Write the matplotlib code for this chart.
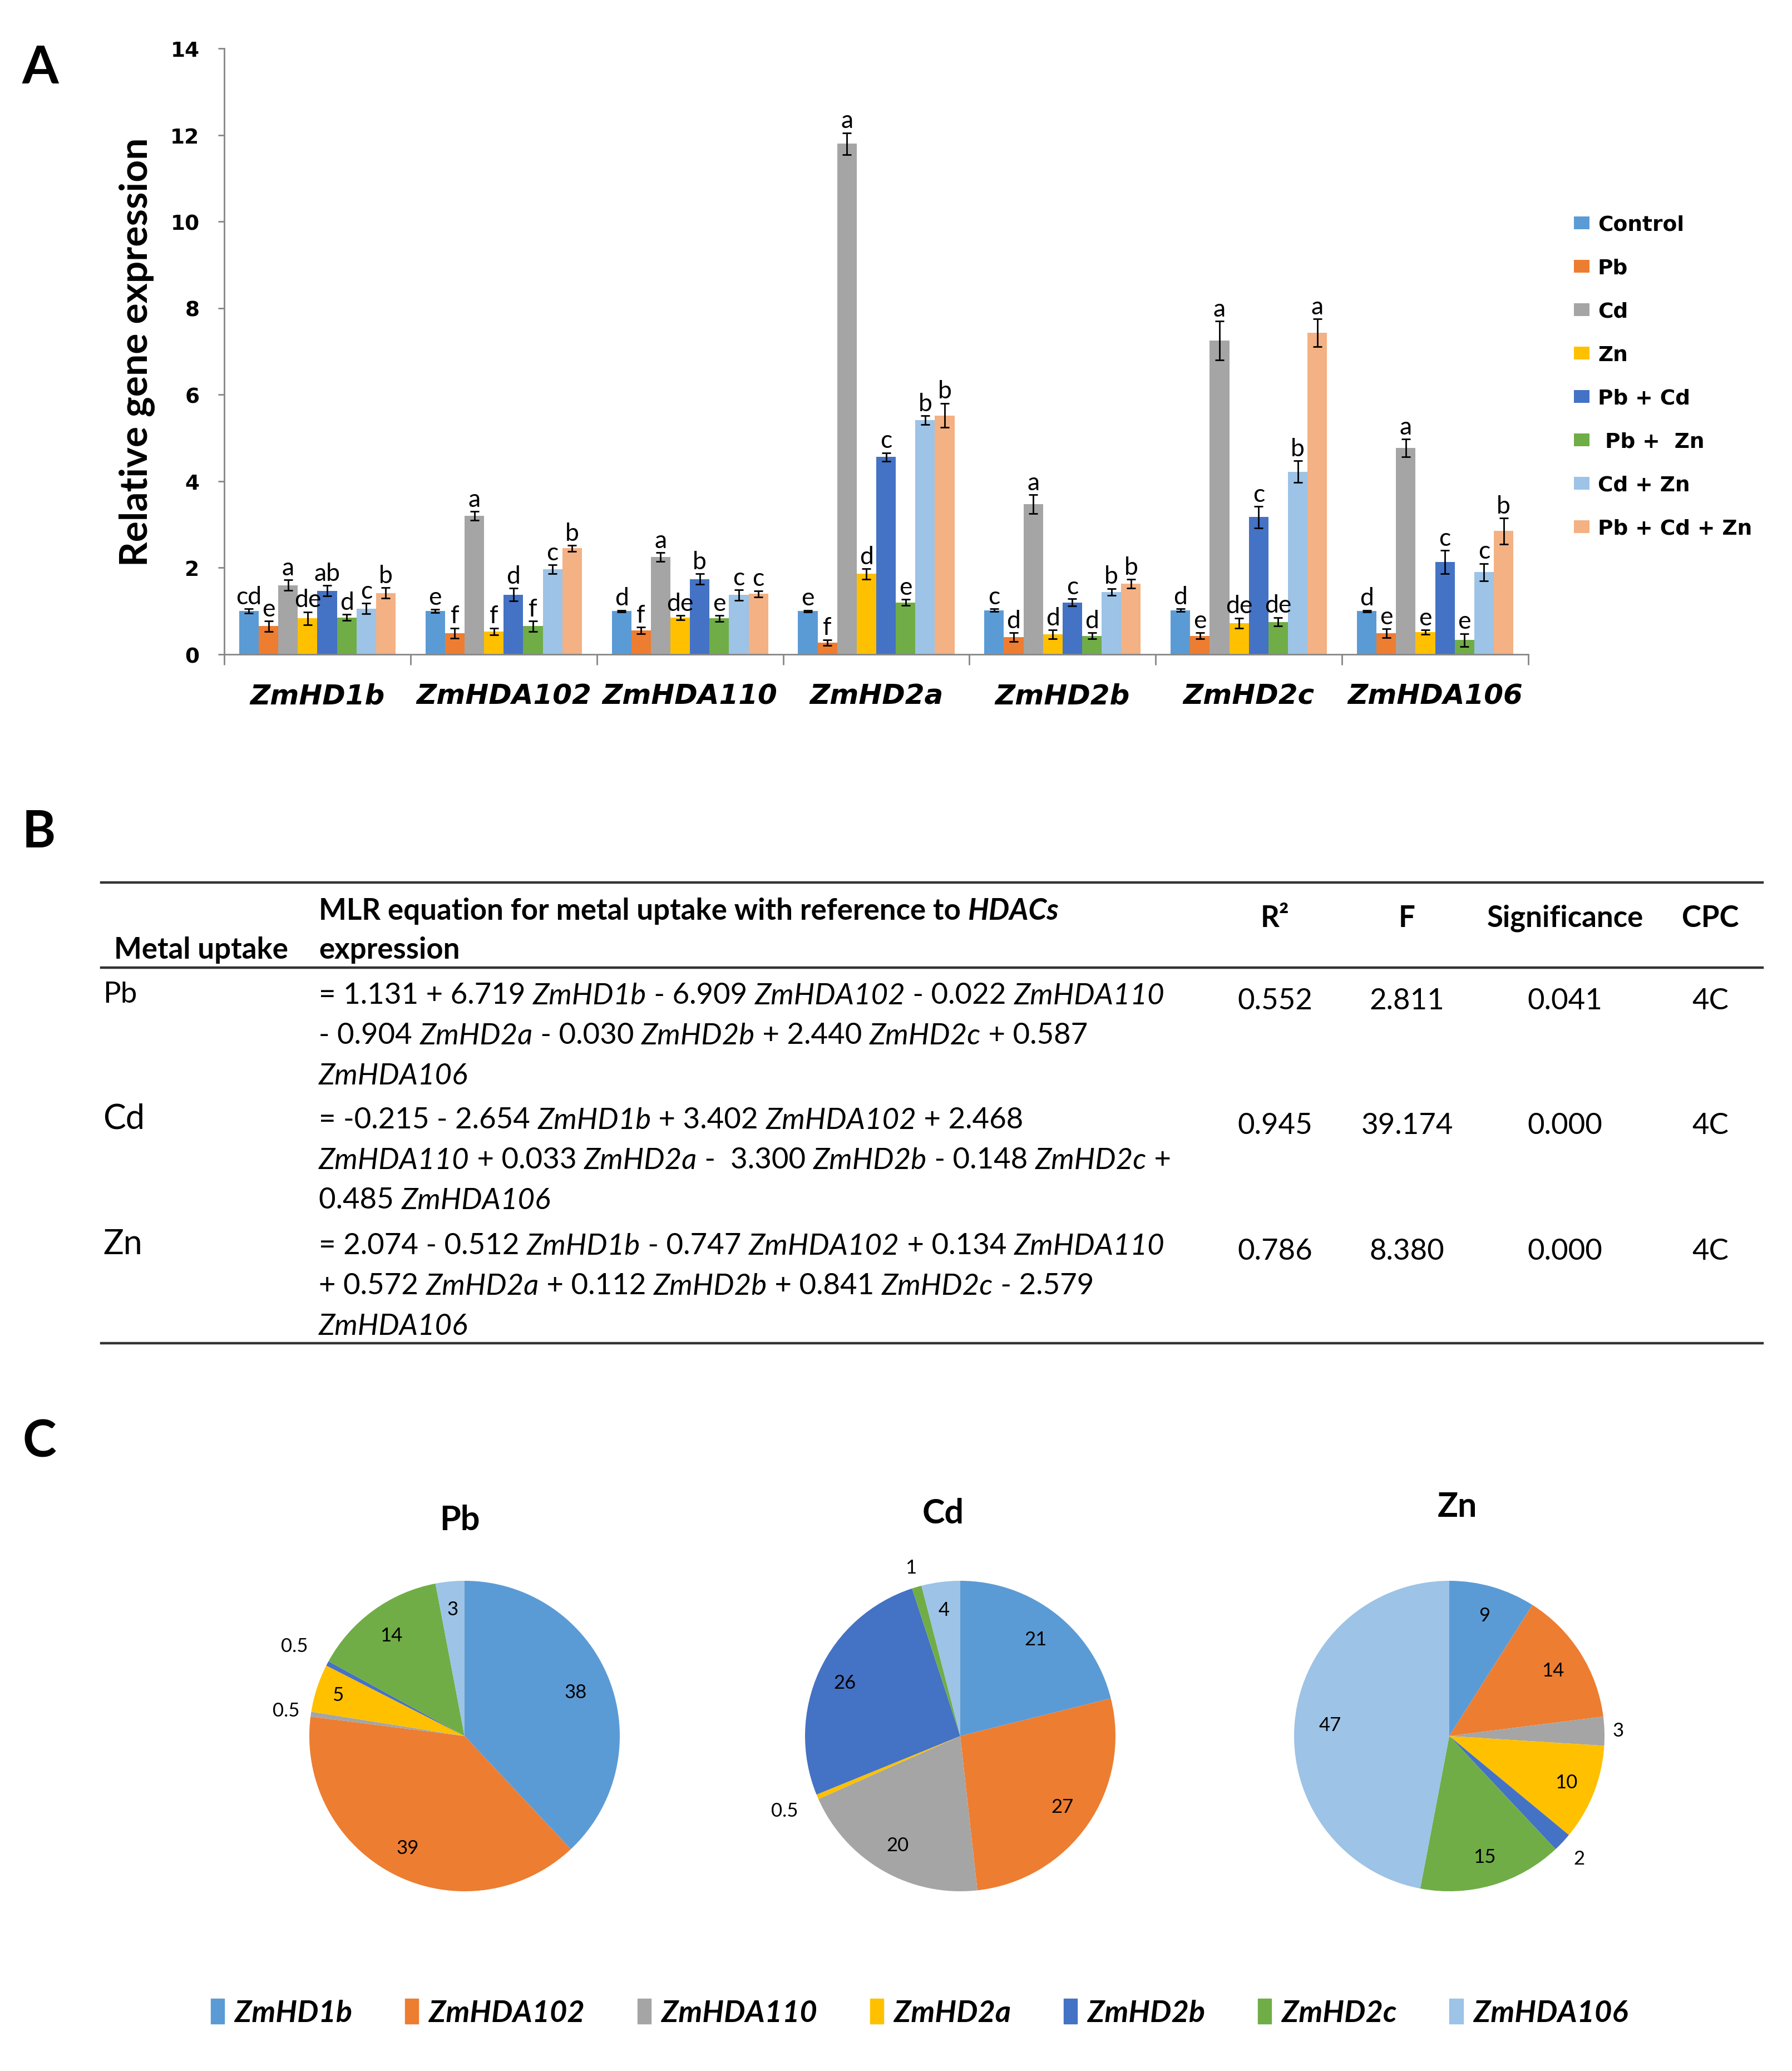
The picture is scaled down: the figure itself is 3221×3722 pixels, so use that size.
import numpy as np
import matplotlib
matplotlib.use('Agg')
import matplotlib.pyplot as plt
from matplotlib.patches import Patch

plt.rcParams['font.family'] = ['Lato', 'DejaVu Sans']

# ---------------- data ----------------
genes = ['ZmHD1b', 'ZmHDA102', 'ZmHDA110', 'ZmHD2a', 'ZmHD2b', 'ZmHD2c', 'ZmHDA106']
treatments = ['Control', 'Pb', 'Cd', 'Zn', 'Pb + Cd', ' Pb +  Zn', 'Cd + Zn', 'Pb + Cd + Zn']

control = [1.00, 1.00, 1.00, 1.00, 1.02, 1.02, 1.00]
pb = [0.65, 0.49, 0.55, 0.27, 0.40, 0.43, 0.49]
cd = [1.60, 3.20, 2.25, 11.80, 3.47, 7.25, 4.77]
zn = [0.83, 0.53, 0.85, 1.86, 0.46, 0.72, 0.51]
pb_cd = [1.47, 1.38, 1.74, 4.56, 1.20, 3.17, 2.13]
pb_zn = [0.85, 0.65, 0.83, 1.20, 0.43, 0.75, 0.33]
cd_zn = [1.06, 1.97, 1.37, 5.41, 1.44, 4.22, 1.90]
pb_cd_zn = [1.42, 2.45, 1.40, 5.52, 1.63, 7.43, 2.85]

control_err = [0.05, 0.04, 0.02, 0.02, 0.03, 0.03, 0.02]
pb_err = [0.12, 0.12, 0.08, 0.07, 0.10, 0.07, 0.10]
cd_err = [0.12, 0.10, 0.10, 0.25, 0.22, 0.45, 0.20]
zn_err = [0.15, 0.08, 0.05, 0.12, 0.10, 0.12, 0.05]
pb_cd_err = [0.12, 0.15, 0.12, 0.10, 0.08, 0.25, 0.27]
pb_zn_err = [0.07, 0.12, 0.07, 0.07, 0.07, 0.10, 0.15]
cd_zn_err = [0.12, 0.10, 0.12, 0.10, 0.08, 0.25, 0.20]
pb_cd_zn_err = [0.12, 0.07, 0.07, 0.28, 0.10, 0.32, 0.30]

control_sig = ['cd', 'e', 'd', 'e', 'c', 'd', 'd']
pb_sig = ['e', 'f', 'f', 'f', 'd', 'e', 'e']
cd_sig = ['a', 'a', 'a', 'a', 'a', 'a', 'a']
zn_sig = ['de', 'f', 'de', 'd', 'd', 'de', 'e']
pb_cd_sig = ['ab', 'd', 'b', 'c', 'c', 'c', 'c']
pb_zn_sig = ['d', 'f', 'e', 'e', 'd', 'de', 'e']
cd_zn_sig = ['c', 'c', 'c', 'b', 'b', 'b', 'c']
pb_cd_zn_sig = ['b', 'b', 'c', 'b', 'b', 'a', 'b']

values = [control, pb, cd, zn, pb_cd, pb_zn, cd_zn, pb_cd_zn]
errors = [control_err, pb_err, cd_err, zn_err, pb_cd_err, pb_zn_err, cd_zn_err, pb_cd_zn_err]
sigs = [control_sig, pb_sig, cd_sig, zn_sig, pb_cd_sig, pb_zn_sig, cd_zn_sig, pb_cd_zn_sig]

# table B  (text between $...$ is set in italic)
metals = ['Pb', 'Cd', 'Zn']
equations = [
    ['= 1.131 + 6.719 $ZmHD1b$ - 6.909 $ZmHDA102$ - 0.022 $ZmHDA110$',
     '- 0.904 $ZmHD2a$ - 0.030 $ZmHD2b$ + 2.440 $ZmHD2c$ + 0.587',
     '$ZmHDA106$'],
    ['= -0.215 - 2.654 $ZmHD1b$ + 3.402 $ZmHDA102$ + 2.468',
     '$ZmHDA110$ + 0.033 $ZmHD2a$ -  3.300 $ZmHD2b$ - 0.148 $ZmHD2c$ +',
     '0.485 $ZmHDA106$'],
    ['= 2.074 - 0.512 $ZmHD1b$ - 0.747 $ZmHDA102$ + 0.134 $ZmHDA110$',
     '+ 0.572 $ZmHD2a$ + 0.112 $ZmHD2b$ + 0.841 $ZmHD2c$ - 2.579',
     '$ZmHDA106$'],
]
header_title = 'MLR equation for metal uptake with reference to $HDACs$'
r2 = ['0.552', '0.945', '0.786']
f_vals = ['2.811', '39.174', '8.380']
significance = ['0.041', '0.000', '0.000']
cpc = ['4C', '4C', '4C']

# pies C
pie_titles = ['Pb', 'Cd', 'Zn']
pb_share = [38, 39, 0.5, 5, 0.5, 14, 3]
cd_share = [21, 27, 20, 0.5, 26, 1, 4]
zn_share = [9, 14, 3, 10, 2, 15, 47]
pb_labels = ['38', '39', '0.5', '5', '0.5', '14', '3']
cd_labels = ['21', '27', '20', '0.5', '26', '1', '4']
zn_labels = ['9', '14', '3', '10', '2', '15', '47']

bar_colors = ['#5B9BD5', '#ED7D31', '#A5A5A5', '#FFC000', '#4472C4', '#70AD47', '#9DC3E6', '#F4B183']
pie_colors = ['#5B9BD5', '#ED7D31', '#A5A5A5', '#FFC000', '#4472C4', '#70AD47', '#9DC3E6']

W, H = 3221, 3723
fig = plt.figure(figsize=(W / 100, H / 100), dpi=100)
renderer = fig.canvas.get_renderer()


def fx(x):
    return x / W


def fy(y):
    return 1 - y / H


def text_width(s, **kw):
    # width in pixels, trailing spaces included
    t = fig.text(0, 0, s + '|', **kw)
    w1 = t.get_window_extent(renderer).width
    t.remove()
    t = fig.text(0, 0, '|', **kw)
    w2 = t.get_window_extent(renderer).width
    t.remove()
    return w1 - w2


def rich_text(x, y, s, **kw):
    # draw s at pixel x; pieces between $ are italic
    parts = s.split('$')
    for i, part in enumerate(parts):
        if not part:
            continue
        style = 'italic' if i % 2 else 'normal'
        fig.text(fx(x), fy(y), part, style=style, va='center', **kw)
        x += text_width(part, style=style, **kw)


# ---------------- panel A ----------------
ax = fig.add_axes([fx(403), fy(1177), fx(2747 - 403), (1177 - 88) / H])
x = np.arange(len(genes))
bw = 0.105
for i, (vals, errs, sg) in enumerate(zip(values, errors, sigs)):
    pos = x + (i - 3.5) * bw
    ax.bar(pos, vals, bw, color=bar_colors[i], label=treatments[i], zorder=2)
    ax.errorbar(pos, vals, yerr=errs, fmt='none', ecolor='black', elinewidth=2,
                capsize=6, capthick=2, zorder=3)
    for p, v, e, s in zip(pos, vals, errs, sg):
        ax.annotate(s, (p, v + e), xytext=(0, 1), textcoords='offset points',
                    ha='center', va='bottom', fontsize=32)

ax.set_xlim(-0.5, len(genes) - 0.5)
ax.set_ylim(0, 14)
ax.set_yticks(np.arange(0, 15, 2))
for s in ['top', 'right']:
    ax.spines[s].set_visible(False)
for s in ['left', 'bottom']:
    ax.spines[s].set_color('#868686')
    ax.spines[s].set_linewidth(2)
ax.set_xticks(x)
ax.set_xticklabels(genes, fontsize=36, fontweight='bold', fontstyle='italic',
                   family='DejaVu Sans')
ax.set_xticks(np.arange(-0.5, len(genes), 1), minor=True)
ax.tick_params(axis='x', which='major', length=0, pad=36)
ax.tick_params(axis='x', which='minor', length=14, width=2, color='#868686')
ax.tick_params(axis='y', length=8, width=2, color='#868686', pad=24)
for t in ax.get_yticklabels():
    t.set_fontsize(27)
    t.set_fontweight('bold')
    t.set_family('DejaVu Sans')
ax.set_ylabel('Relative gene expression', fontsize=50, fontweight='bold', labelpad=20)

leg = ax.legend(loc='upper left', bbox_to_anchor=(fx(2810), fy(368)),
                bbox_transform=fig.transFigure, frameon=False,
                prop={'family': 'DejaVu Sans', 'weight': 'bold', 'size': 27},
                labelspacing=1.12, handlelength=0.75, handleheight=0.55,
                handletextpad=0.4, borderpad=0)

fig.text(fx(40), fy(123), 'A', fontsize=68, fontweight='bold', va='center')

# ---------------- panel B ----------------
fig.text(fx(40), fy(1497), 'B', fontsize=66, fontweight='bold', va='center')
tl, tr = fx(182), fx(3168)
for yy in [1587, 1740, 2415]:
    fig.add_artist(plt.Line2D([tl, tr], [fy(yy), fy(yy)], color='#333333', lw=3.2))

hdr = dict(fontsize=38, fontweight='bold')
rich_text(573, 1638, header_title, **hdr)
fig.text(fx(205), fy(1708), 'Metal uptake', va='center', **hdr)
fig.text(fx(573), fy(1708), 'expression', va='center', **hdr)
col_x = [2292, 2529, 2813, 3074]
for cx, lab in zip(col_x, ['R²', 'F', 'Significance', 'CPC']):
    fig.text(fx(cx), fy(1650), lab, ha='center', va='center', **hdr)

row_y = [1790, 2014, 2240]
for k, metal in enumerate(metals):
    y0 = row_y[k]
    fig.text(fx(185), fy(y0 - 3), metal, fontsize=38 if k == 0 else 44, va='center')
    for j, line in enumerate(equations[k]):
        rich_text(573, y0 + j * 72, line, fontsize=38)
    for cx, val in zip(col_x, [r2[k], f_vals[k], significance[k], cpc[k]]):
        fig.text(fx(cx), fy(y0 + 10), val, fontsize=38, va='center', ha='center')

# ---------------- panel C ----------------
fig.text(fx(40), fy(2593), 'C', fontsize=66, fontweight='bold', va='center')
shares = [pb_share, cd_share, zn_share]
labels = [pb_labels, cd_labels, zn_labels]
centers = [835, 1726, 2605]
title_pos = [(826, 2732), (1695, 2720), (2619, 2708)]
label_r = [
    [0.77, 0.81, 1.16, 0.86, 1.24, 0.80, 0.82],
    [0.79, 0.80, 0.81, 1.23, 0.82, 1.13, 0.82],
    [0.81, 0.79, 1.09, 0.81, 1.15, 0.81, 0.77],
]
R = 279
cy = 3121
for k in range(3):
    pax = fig.add_axes([fx(centers[k] - R), fy(cy + R), 2 * R / W, 2 * R / H])
    wedges, _ = pax.pie(shares[k], colors=pie_colors, startangle=90, counterclock=False,
                        wedgeprops=dict(linewidth=0))
    pax.set_xlim(-1, 1)
    pax.set_ylim(-1, 1)
    pax.set_aspect('equal')
    pax.axis('off')
    for w, lab, rr in zip(wedges, labels[k], label_r[k]):
        ang = np.deg2rad((w.theta1 + w.theta2) / 2)
        pax.text(rr * np.cos(ang), rr * np.sin(ang), lab, ha='center', va='center',
                 fontsize=25, clip_on=False)
    tx, ty = title_pos[k]
    fig.text(fx(tx), fy(ty), pie_titles[k], fontsize=44, fontweight='bold',
             ha='center', va='center')

handles = [Patch(color=c) for c in pie_colors]
fig.legend(handles, genes, loc='center', bbox_to_anchor=(0.513, fy(3618)), ncol=7,
           frameon=False, prop={'weight': 'bold', 'style': 'italic', 'size': 39},
           handlelength=0.45, handleheight=0.9, handletextpad=0.35, columnspacing=1.75)

fig.savefig('out.png', dpi=100)
